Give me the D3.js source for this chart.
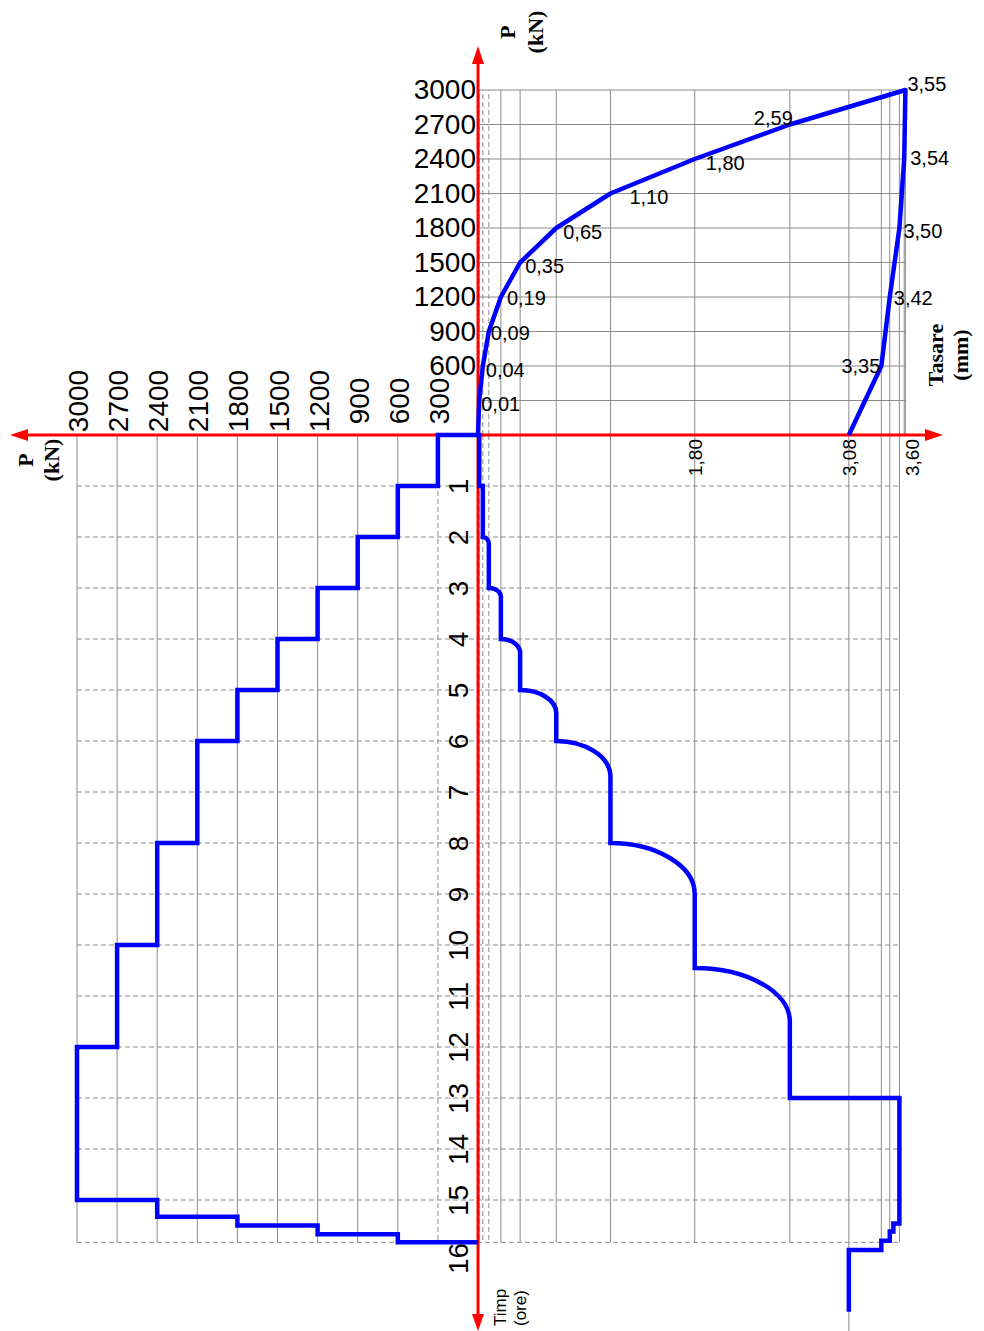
<!DOCTYPE html>
<html>
<head>
<meta charset="utf-8">
<script src="https://cdn.jsdelivr.net/npm/d3@7"></script>
<style>
body { margin: 0; background: #fff; }
</style>
</head>
<body>
<script>
// load - settlement (top right quadrant)
var loadUp = [0, 300, 600, 900, 1200, 1500, 1800, 2100, 2400, 2700, 3000];
var settleUp = [0, 0.01, 0.04, 0.09, 0.19, 0.35, 0.65, 1.10, 1.80, 2.59, 3.55];
var loadDown = [3000, 2400, 1800, 1200, 600, 0];
var settleDown = [3.55, 3.54, 3.50, 3.42, 3.35, 3.08];

// load steps in time (bottom left), each load kept until stepUntil (ore)
var stepLoad = [300, 600, 900, 1200, 1500, 1800, 2100, 2400, 2700, 3000, 2400, 1800, 1200, 600, 0];
var stepUntil = [1, 2, 3, 4, 5, 6, 8, 10, 12, 15, 15.33, 15.5, 15.67, 15.83, 15.83];

// settlement in time (bottom right): starts moving at creepFrom, reaches creepSettle at creepTo
var creepFrom = [0, 1, 2, 3, 4, 5, 6, 8, 10.45, 13, 15.46, 15.62, 15.8, 15.98];
var creepTo = [0, 1, 2.13, 3.17, 4.27, 5.45, 6.7, 9, 11.5, 13, 15.46, 15.62, 15.8, 15.98];
var creepSettle = [0.01, 0.04, 0.09, 0.19, 0.35, 0.65, 1.10, 1.80, 2.59, 3.50, 3.45, 3.42, 3.35, 3.08];
var creepEnd = 17.19;

// ticks
var pTicks = [300, 600, 900, 1200, 1500, 1800, 2100, 2400, 2700, 3000];
var pTicksTop = [600, 900, 1200, 1500, 1800, 2100, 2400, 2700, 3000];
var hourTicks = [1, 2, 3, 4, 5, 6, 7, 8, 9, 10, 11, 12, 13, 14, 15, 16];
var gridHours = [1, 2, 3, 4, 5, 6, 7, 8, 9, 10, 11, 12, 13, 14, 15, 15.83];
var sTicks = [1.80, 3.08, 3.60];

var W = 984, H = 1331;
var ox = 478, oy = 435;
var sans = "Liberation Sans, Arial, sans-serif";
var serif = "Liberation Serif, Times New Roman, serif";
var blue = "#0000ff", red = "#ff0000", gridCol = "#8c8c8c";

var svg = d3.select("body").append("svg")
    .attr("width", W)
    .attr("height", H)

var xS = d3.scaleLinear().domain([0, 3.6]).range([ox, ox + 3.6 * 120.4]);
var yP = d3.scaleLinear().domain([0, 3000]).range([oy, 90]);
var xP = d3.scaleLinear().domain([0, 3000]).range([ox, 77]);
var yT = d3.scaleLinear().domain([0, 16]).range([oy, oy + 16 * 51]);

var fmt = function(v){ return d3.format(".2f")(v).replace(".", ","); };
var fmtP = d3.format("d");

// grid values in settlement come from the measured values
var gridS = Array.from(new Set(settleUp.concat(settleDown))).filter(function(d){ return d > 0; }).sort(d3.ascending);
var sMax = d3.max(settleUp);
var sMaxTime = d3.max(creepSettle);
var tEnd = gridHours[gridHours.length - 1];

var grid = svg.append("g")
    .attr("stroke", gridCol)
    .attr("stroke-width", 1)
    .attr("fill", "none")

// top right
grid.selectAll(".hP").data(pTicks).enter().append("line")
    .attr("x1", xS(0)).attr("x2", xS(sMax))
    .attr("y1", function(d){ return yP(d); }).attr("y2", function(d){ return yP(d); })
grid.selectAll(".vS").data(gridS).enter().append("line")
    .attr("x1", function(d){ return xS(d); }).attr("x2", function(d){ return xS(d); })
    .attr("y1", yP(0)).attr("y2", yP(3000))
    .attr("stroke-dasharray", function(d){ return d < 0.1 ? "5,3" : null; })

// bottom right
grid.selectAll(".vS2").data(gridS.filter(function(d){ return d <= sMaxTime; })).enter().append("line")
    .attr("x1", function(d){ return xS(d); }).attr("x2", function(d){ return xS(d); })
    .attr("y1", yT(0))
    .attr("y2", function(d){ return d == 3.08 ? H : yT(tEnd); })
    .attr("stroke-dasharray", function(d){ return d < 0.1 ? "5,3" : null; })

// bottom left
grid.selectAll(".vP").data(pTicks).enter().append("line")
    .attr("x1", function(d){ return xP(d); }).attr("x2", function(d){ return xP(d); })
    .attr("y1", yT(0)).attr("y2", yT(tEnd))
    .attr("stroke-dasharray", function(d){ return d == 300 ? "5,3" : null; })

// hours, across both bottom quadrants
grid.selectAll(".hT").data(gridHours).enter().append("line")
    .attr("x1", xP(3000)).attr("x2", xS(sMaxTime))
    .attr("y1", function(d){ return yT(d); }).attr("y2", function(d){ return yT(d); })
    .attr("stroke-dasharray", "5,3")

// red axes with arrows
var axes = svg.append("g")
axes.append("line")
    .attr("x1", 26).attr("x2", 926).attr("y1", oy).attr("y2", oy)
    .attr("stroke", red).attr("stroke-width", 3)
axes.append("line")
    .attr("x1", ox).attr("x2", ox).attr("y1", 62).attr("y2", 1316)
    .attr("stroke", red).attr("stroke-width", 3)
var arrows = [
    [[ox, 46], [ox - 6, 64], [ox + 6, 64]],
    [[ox, H], [ox - 6, H - 17], [ox + 6, H - 17]],
    [[10, oy], [28, oy - 6], [28, oy + 6]],
    [[943, oy], [925, oy - 6], [925, oy + 6]]
];
axes.selectAll("polygon").data(arrows).enter().append("polygon")
    .attr("points", function(d){ return d.join(" "); })
    .attr("fill", red)

// blue curves
var curves = svg.append("g")
    .attr("fill", "none")
    .attr("stroke", blue)
    .attr("stroke-width", 4.5)

var lsPts = loadUp.map(function(p, i){ return [settleUp[i], p]; })
    .concat(loadDown.slice(1).map(function(p, i){ return [settleDown[i + 1], p]; }));
curves.append("path")
    .attr("d", d3.line()
        .x(function(d){ return xS(d[0]); })
        .y(function(d){ return yP(d[1]); })(lsPts))
    .attr("stroke-linejoin", "round")

var stepPts = [[0, 0]].concat(stepLoad.map(function(p, i){ return [p, stepUntil[i]]; }));
curves.append("path")
    .attr("d", d3.line()
        .x(function(d){ return xP(d[0]); })
        .y(function(d){ return yT(d[1]); })
        .curve(d3.curveStepAfter)(stepPts))

var cp = d3.path();
cp.moveTo(xS(0), yT(0));
var sPrev = 0;
for (var ii = 0; ii < creepSettle.length; ii++){
    var x0 = xS(sPrev), y0 = yT(creepFrom[ii]);
    var x1 = xS(creepSettle[ii]), y1 = yT(creepTo[ii]);
    cp.lineTo(x0, y0);
    if (y1 > y0)
        cp.bezierCurveTo(x0 + 0.55 * (x1 - x0), y0, x1, y1 - 0.55 * (y1 - y0), x1, y1);
    else
        cp.lineTo(x1, y1);
    sPrev = creepSettle[ii];
}
cp.lineTo(xS(sPrev), yT(creepEnd));
curves.append("path")
    .attr("d", cp.toString())

// axis labels
var axTop = svg.append("g")
    .attr("transform", "translate(" + (ox - 2) + ",0)")
    .call(d3.axisLeft(yP).tickValues(pTicksTop).tickSize(0).tickPadding(0).tickFormat(fmtP))
axTop.select(".domain").remove();

var axLeft = svg.append("g")
    .attr("transform", "translate(0," + oy + ")")
    .call(d3.axisTop(xP).tickValues(pTicks).tickSize(0).tickFormat(fmtP))
axLeft.select(".domain").remove();
axLeft.selectAll("text")
    .attr("transform", "rotate(-90)")
    .attr("x", 34).attr("y", 10.5).attr("dy", 0)
    .attr("text-anchor", "middle")

var axTime = svg.append("g")
    .attr("transform", "translate(" + ox + ",0)")
    .call(d3.axisLeft(yT).tickValues(hourTicks).tickSize(0))
axTime.select(".domain").remove();
axTime.selectAll("text")
    .attr("transform", "rotate(-90)")
    .attr("x", function(d){ return d == 16 ? -7 : 0; })
    .attr("y", -10).attr("dy", 0)
    .attr("text-anchor", "middle")

var axS = svg.append("g")
    .attr("transform", "translate(0," + oy + ")")
    .call(d3.axisBottom(xS).tickValues(sTicks).tickSize(0).tickFormat(fmt))
axS.select(".domain").remove();
axS.selectAll("text")
    .attr("transform", "rotate(-90)")
    .attr("x", -4).attr("y", 7).attr("dy", 0)
    .attr("text-anchor", "end")

;[axTop, axLeft, axTime].forEach(function(g){
    g.attr("font-family", sans).attr("font-size", 28)
    g.selectAll("text").attr("fill", "#000")
});
axS.attr("font-family", sans).attr("font-size", 19)
axS.selectAll("text").attr("fill", "#000")

// value labels on the load - settlement curve
var upOff = [null, [2, 3.5], [3, 3.5], [2, 1], [6, 1], [5, 3.5], [7, 4], [19, 3.5], [11, 4], [-36, -6.5], [2, -6]];
var downOff = [null, [6, -1], [4, 3], [4, 1], [-1, 0], null];
var vLabels = [];
settleUp.forEach(function(s, i){
    if (upOff[i]) vLabels.push({s: s, p: loadUp[i], off: upOff[i]});
});
settleDown.forEach(function(s, i){
    if (downOff[i]) vLabels.push({s: s, p: loadDown[i], off: downOff[i], end: downOff[i][0] < 0});
});
svg.append("g").selectAll("text").data(vLabels).enter().append("text")
    .attr("x", function(d){ return xS(d.s) + d.off[0]; })
    .attr("y", function(d){ return yP(d.p) + d.off[1]; })
    .attr("dy", "0.35em")
    .attr("text-anchor", function(d){ return d.end ? "end" : "start"; })
    .attr("font-family", sans)
    .attr("font-size", 20)
    .text(function(d){ return fmt(d.s); })

// titles
function title(x, y, lines, font, size, bold, anchor, gap){
    var t = svg.append("g").attr("transform", "translate(" + x + "," + y + ") rotate(-90)");
    lines.forEach(function(l, i){
        t.append("text")
            .attr("x", 0).attr("y", i * gap)
            .attr("text-anchor", anchor)
            .attr("font-family", font)
            .attr("font-size", size)
            .attr("font-weight", bold ? "bold" : "normal")
            .text(l)
    });
}
title(515, 32, ["P", "(kN)"], serif, 22, true, "middle", 28);
title(33, 460, ["P", "(kN)"], serif, 22, true, "middle", 26);
title(943, 355, ["Tasare", "(mm)"], serif, 22, true, "middle", 25);
title(506, 1326, ["Timp", "(ore)"], sans, 17, false, "start", 20);
</script>
</body>
</html>
